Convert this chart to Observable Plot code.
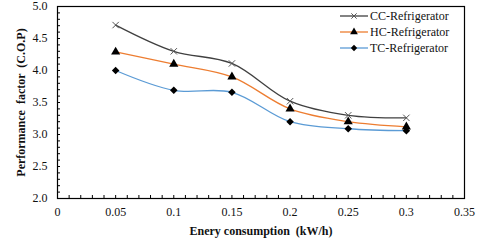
<!DOCTYPE html>
<html><head><meta charset="utf-8">
<script src="https://cdn.jsdelivr.net/npm/d3@7"></script>
<script src="https://cdn.jsdelivr.net/npm/@observablehq/plot@0.6"></script>
<style>
body{margin:0;background:#fff;}
#wrap{position:relative;width:480px;height:244px;font-family:"Liberation Serif",serif;}
#legend{position:absolute;left:340px;top:8px;font-size:12px;line-height:16px;color:#111;}
#legend div{display:flex;align-items:center;height:16px;}
#legend svg{margin-right:2px;}
</style></head><body><div id="wrap"></div>
<script>
const consumption = [0.05, 0.1, 0.15, 0.2, 0.25, 0.3];
const ccCOP = [4.71, 4.30, 4.11, 3.52, 3.30, 3.26];
const hcCOP = [4.29, 4.10, 3.90, 3.40, 3.20, 3.12];
const tcCOP = [4.00, 3.69, 3.66, 3.20, 3.09, 3.06];
const seriesNames = ["CC-Refrigerator", "HC-Refrigerator", "TC-Refrigerator"];
const xTickValues = [0, 0.05, 0.1, 0.15, 0.2, 0.25, 0.3, 0.35];
const yTickValues = [2.0, 2.5, 3.0, 3.5, 4.0, 4.5, 5.0];
const xTitle = "Enery consumption  (kW/h)";
const yTitle = "Performance  factor  (C.O.P)";

const colors = ["#404040", "#ED7D31", "#5B9BD5"];
const symbols = ["times", "triangle", "diamond2"];
const allSeries = [ccCOP, hcCOP, tcCOP];
const rows = [];
allSeries.forEach((vals, i) => vals.forEach((v, j) => rows.push({series: seriesNames[i], x: consumption[j], y: v})));

const minorX = d3.range(0, 36).map(i => i / 100);
const minorY = d3.range(0, 31).map(i => 2 + i / 10);

const chart = Plot.plot({
  width: 480, height: 244,
  marginLeft: 57, marginRight: 16, marginTop: 6, marginBottom: 46,
  style: {fontFamily: "'Liberation Serif', serif", fontSize: "12px", color: "#111", background: "white"},
  x: {domain: [0, 0.35]},
  y: {domain: [2, 5]},
  color: {domain: seriesNames, range: colors},
  symbol: {domain: seriesNames, range: symbols},
  marks: [
    Plot.axisX({ticks: minorX, tickSize: -3, tickFormat: () => "", label: null, stroke: "#000"}),
    Plot.axisY({ticks: minorY, tickSize: -3, tickFormat: () => "", label: null, stroke: "#000"}),
    Plot.axisX({ticks: xTickValues, tickSize: 0, tickPadding: 9, tickFormat: d => String(+d.toFixed(2)), label: null}),
    Plot.axisY({ticks: yTickValues, tickSize: 0, tickPadding: 10, tickFormat: d3.format(".1f"), label: null}),
    Plot.frame({stroke: "#000", strokeWidth: 1.2}),
    Plot.line(rows, {x: "x", y: "y", stroke: "series", z: "series", curve: "catmull-rom", strokeWidth: 1.3}),
    Plot.dot(rows.filter(d => d.series === seriesNames[0]), {x: "x", y: "y", symbol: "series", stroke: "#555", r: 3, strokeWidth: 1}),
    Plot.dot(rows.filter(d => d.series !== seriesNames[0]), {x: "x", y: "y", symbol: "series", fill: "#000", stroke: "none", r: 3.4}),
    Plot.text([xTitle], {frameAnchor: "bottom", dy: 36, fontWeight: "bold", fontSize: 12, fill: "#111"}),
    Plot.text([yTitle], {frameAnchor: "left", textAnchor: "middle", dx: -36, rotate: -90, fontWeight: "bold", fontSize: 12, fill: "#111"})
  ]
});
const wrap = document.getElementById("wrap");
wrap.appendChild(chart);

const legend = document.createElement("div");
legend.id = "legend";
seriesNames.forEach((name, i) => {
  const row = document.createElement("div");
  const sym = d3.symbol(i === 0 ? d3.symbolTimes : i === 1 ? d3.symbolTriangle : d3.symbolDiamond2, i === 0 ? 20 : 26)();
  row.innerHTML = `<svg width="28" height="10"><line x1="0" x2="28" y1="5" y2="5" stroke="${colors[i]}" stroke-width="1.3"/><path d="${sym}" transform="translate(14,5)" ${i === 0 ? 'fill="none" stroke="#555"' : 'fill="#000"'}/></svg><span>${name}</span>`;
  legend.appendChild(row);
});
wrap.appendChild(legend);
</script></body></html>
